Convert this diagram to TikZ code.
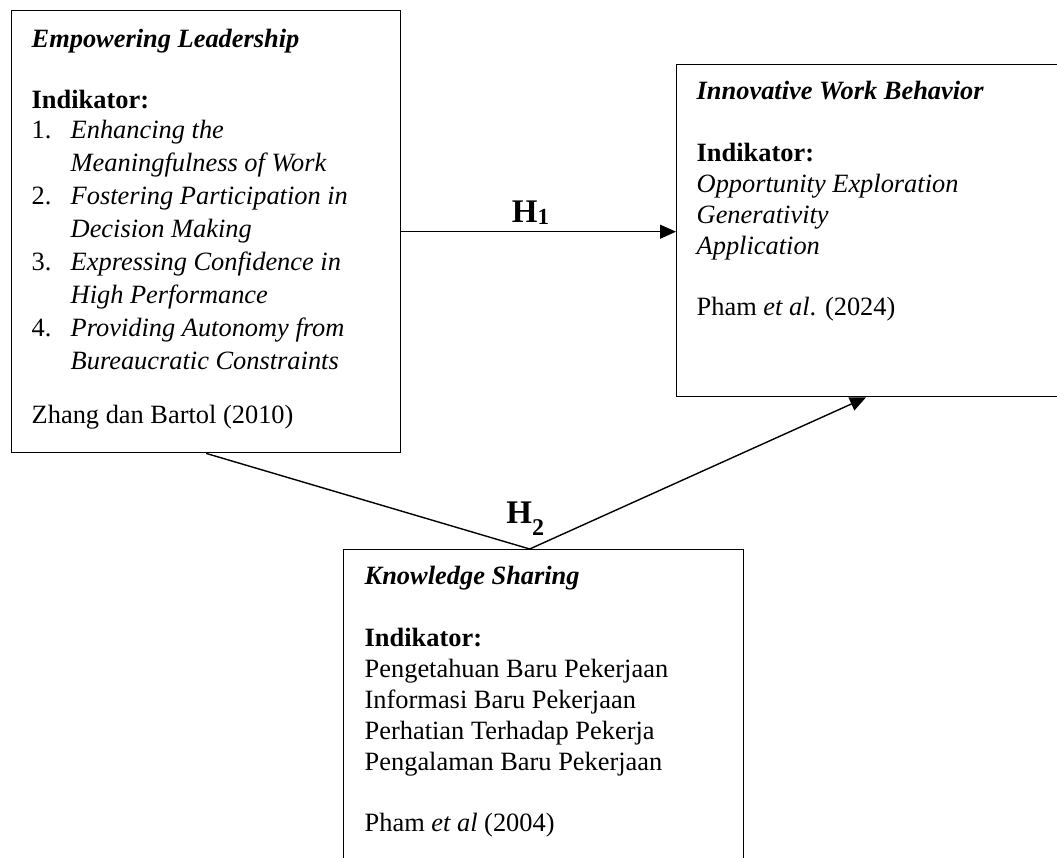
\documentclass[tikz,border=0pt]{standalone}
\usepackage{fontspec}
\setmainfont{Liberation Serif}
\usetikzlibrary{arrows.meta, positioning, calc}

\begin{document}
\begin{tikzpicture}[x=0.5pt, y=-0.5pt, line width=0.7pt, >={Triangle[length=8pt,width=7pt]}]
	\tikzstyle{box}=[draw, line width=0.7pt, anchor=north west, inner sep=0pt]
	\tikzstyle{txt}=[anchor=north west, inner sep=0pt, align=left, font=\fontsize{13.2pt}{15.5pt}\selectfont]
	\tikzstyle{hyp}=[inner sep=0pt, anchor=base west, font=\fontsize{16.5pt}{16.5pt}\selectfont\bfseries]

	\useasboundingbox (0,0) rectangle (1057,858);
	\clip (0,0) rectangle (1057,858);

	\node[box, minimum width=194.5pt, minimum height=221pt] (EL) at (11,10) {};
	\node[box, minimum width=200pt, minimum height=166pt] (IWB) at (676,64) {};
	\node[box, minimum width=200pt, minimum height=180pt] (KS) at (343,549) {};

	\node[txt, font=\fontsize{13.2pt}{16.5pt}\selectfont] (ELtxt) at (31,28)
		{\textbf{\textit{Empowering Leadership}}\\[14pt]
		 \textbf{Indikator:}\\[-1.5pt]
		 \makebox[19.5pt][l]{1.}\textit{Enhancing the}\\
		 \hspace*{19.5pt}\textit{Meaningfulness of Work}\\
		 \makebox[19.5pt][l]{2.}\textit{Fostering Participation in}\\
		 \hspace*{19.5pt}\textit{Decision Making}\\
		 \makebox[19.5pt][l]{3.}\textit{Expressing Confidence in}\\
		 \hspace*{19.5pt}\textit{High Performance}\\
		 \makebox[19.5pt][l]{4.}\textit{Providing Autonomy from}\\
		 \hspace*{19.5pt}\textit{Bureaucratic Constraints}\\[10.5pt]
		 Zhang dan Bartol (2010)};
	\node[txt] (IWBtxt) at (696,80)
		{\textbf{\textit{Innovative Work Behavior}}\\[15.5pt]
		 \textbf{Indikator:}\\
		 \textit{Opportunity Exploration}\\
		 \textit{Generativity}\\
		 \textit{Application}\\[15pt]
		 Pham \textit{et al}. (2024)};
	\node[txt] (KStxt) at (364,565)
		{\textbf{\textit{Knowledge Sharing}}\\[15.5pt]
		 \textbf{Indikator:}\\
		 Pengetahuan Baru Pekerjaan\\
		 Informasi Baru Pekerjaan\\
		 Perhatian Terhadap Pekerja\\
		 Pengalaman Baru Pekerjaan\\[15pt]
		 Pham \textit{et al} (2004)};

	\draw[->] (EL.east) -- (EL.east -| IWB.west)
		node[hyp, anchor=base, pos=0.47, yshift=4.5pt] (H1) {H\raisebox{-1pt}{\fontsize{11.5pt}{11.5pt}\selectfont 1}};

	\coordinate (peak) at ([xshift=-7pt]KS.north);
	\coordinate (tip) at ([xshift=95pt]IWB.south west);
	\draw[->] (EL.south) -- (peak) -- (tip);
	\node[hyp] (H2) at ([shift={(-12pt,13pt)}]peak) {H\raisebox{-6pt}{\fontsize{12pt}{12pt}\selectfont 2}};
\end{tikzpicture}
\end{document}
